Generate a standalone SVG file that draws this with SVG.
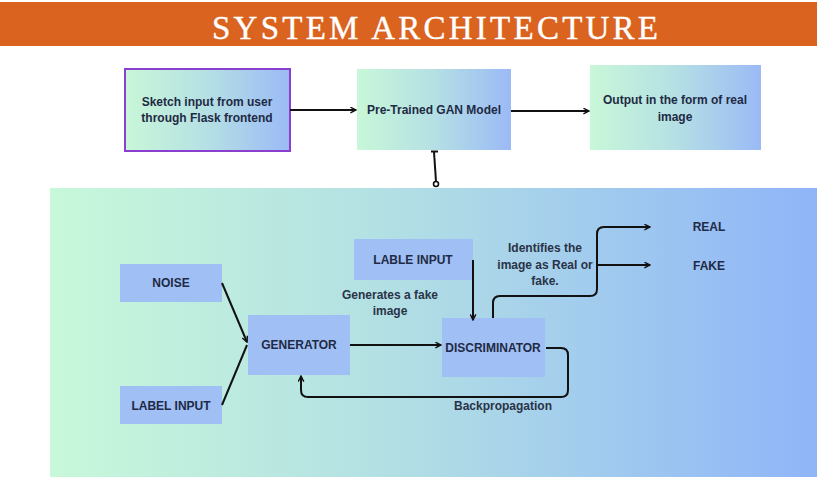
<svg xmlns="http://www.w3.org/2000/svg" width="817" height="477" viewBox="0 0 817 477">
<defs>
  <linearGradient id="gBox" x1="0" y1="0" x2="1" y2="0">
    <stop offset="0" stop-color="#c8f7d8"/>
    <stop offset="0.5" stop-color="#b5e0e4"/>
    <stop offset="1" stop-color="#9bbaf6"/>
  </linearGradient>
  <linearGradient id="gPanel" x1="0" y1="0" x2="1" y2="0">
    <stop offset="0" stop-color="#c8f8da"/>
    <stop offset="0.45" stop-color="#b2dfe4"/>
    <stop offset="1" stop-color="#8fb5f8"/>
  </linearGradient>
  <marker id="arr" viewBox="0 0 10 10" refX="9" refY="5" markerWidth="7" markerHeight="7" markerUnits="userSpaceOnUse" orient="auto">
    <path d="M1,1 L9,5 L1,9" fill="none" stroke="#111" stroke-width="2"/>
  </marker>
</defs>
<style>
  .lbl{font-family:"Liberation Sans","Open Sans",sans-serif;font-weight:bold;fill:#1f2a44;text-anchor:middle;}
  .top{font-size:12px;}
  .node{fill:#9fbff5;}
  .in{font-size:12px;}
  .note{font-family:"Liberation Sans","Open Sans",sans-serif;font-weight:bold;fill:#2a3347;font-size:12px;text-anchor:middle;}
  .con{fill:none;stroke:#111;stroke-width:2;}
</style>
<rect x="0" y="0" width="817" height="477" fill="#ffffff"/>
<rect x="0" y="2" width="817" height="44" fill="#d9631f"/>
<text x="435" y="39" font-family="'Liberation Serif','DejaVu Serif',serif" font-size="33" fill="#ffffff" stroke="#ffffff" stroke-width="0.4" text-anchor="middle" textLength="446" lengthAdjust="spacing">SYSTEM ARCHITECTURE</text>

<rect x="50" y="188" width="767" height="289" fill="url(#gPanel)"/>

<g id="sketch">
  <rect x="125" y="69" width="165" height="82" fill="url(#gBox)" stroke="#8a3fcf" stroke-width="2"/>
  <text class="lbl top" x="207" y="106">Sketch input from user</text>
  <text class="lbl top" x="207" y="122">through Flask frontend</text>
</g>
<g id="gan">
  <rect x="357" y="69" width="154" height="81" fill="url(#gBox)"/>
  <text class="lbl top" x="434" y="114">Pre-Trained GAN Model</text>
</g>
<g id="output">
  <rect x="590" y="65" width="171" height="85" fill="url(#gBox)"/>
  <text class="lbl top" x="675" y="104">Output in the form of real</text>
  <text class="lbl top" x="675" y="121">image</text>
</g>

<g id="noise">
  <rect class="node" x="120" y="264" width="102" height="38"/>
  <text class="lbl in" x="171" y="287">NOISE</text>
</g>
<g id="labelinput">
  <rect class="node" x="120" y="386" width="102" height="38"/>
  <text class="lbl in" x="171" y="410">LABEL INPUT</text>
</g>
<g id="generator">
  <rect class="node" x="248" y="315" width="102" height="60"/>
  <text class="lbl in" x="299" y="349">GENERATOR</text>
</g>
<g id="lableinput">
  <rect class="node" x="354" y="239" width="119" height="41"/>
  <text class="lbl in" x="413" y="264">LABLE INPUT</text>
</g>
<g id="discriminator">
  <rect class="node" x="442" y="318" width="103" height="59"/>
  <text class="lbl in" x="493" y="352">DISCRIMINATOR</text>
</g>
<g id="real">
  <text class="lbl in" x="709" y="231">REAL</text>
</g>
<g id="fake">
  <text class="lbl in" x="709" y="270">FAKE</text>
</g>

<g id="labels">
  <text class="note" x="390" y="299">Generates a fake</text>
  <text class="note" x="390" y="315">image</text>
  <text class="note" x="545" y="252">Identifies the</text>
  <text class="note" x="545" y="269">image as Real or</text>
  <text class="note" x="545" y="285">fake.</text>
  <text class="note" x="503" y="410">Backpropagation</text>
</g>

<g id="connectors">
  <line class="con" x1="290" y1="110" x2="356" y2="110" marker-end="url(#arr)"/>
  <line class="con" x1="511" y1="111" x2="589" y2="111" marker-end="url(#arr)"/>
  <line class="con" x1="431" y1="151.5" x2="438" y2="151.5"/>
  <line class="con" x1="434" y1="152" x2="436" y2="181.5"/>
  <circle cx="436" cy="184" r="2.5" fill="#fff" stroke="#111" stroke-width="1.6"/>
  <line class="con" x1="222" y1="283" x2="247" y2="342" marker-end="url(#arr)"/>
  <line class="con" x1="222" y1="405" x2="247" y2="345"/>
  <line class="con" x1="350" y1="345" x2="441" y2="345" marker-end="url(#arr)"/>
  <line class="con" x1="473" y1="260" x2="473" y2="320" marker-end="url(#arr)"/>
  <path class="con" d="M493,318 V303 Q493,296 500,296 H590 Q597,296 597,289 V234 Q597,227 604,227 H650" marker-end="url(#arr)"/>
  <line class="con" x1="597" y1="265" x2="650" y2="265" marker-end="url(#arr)"/>
  <path class="con" d="M546,348 H561 Q568,348 568,355 V390 Q568,397 561,397 H308 Q301,397 301,390 V376" marker-end="url(#arr)"/>
</g>
</svg>
